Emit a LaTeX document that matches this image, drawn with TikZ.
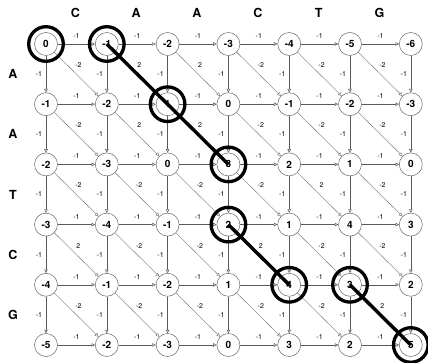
\documentclass[tikz,border=0pt]{standalone}
\usepackage{fontspec}
\setmainfont{TeX Gyre Heros}
\usetikzlibrary{arrows.meta}
\begin{document}
\begin{tikzpicture}[x=1pt,y=-1pt,
  cell/.style={circle, draw=black!60, line width=0.5pt, fill=white, minimum size=23pt, inner sep=0pt, font=\bfseries\fontsize{10}{10}\selectfont},
  edge/.style={draw=black!65, line width=0.5pt, -{Triangle[open,length=3.5pt,width=3.5pt]}},
  diag/.style={draw=black!55, line width=0.4pt, -{Triangle[open,length=3.5pt,width=3.5pt]}},
  lbl/.style={font=\fontsize{7}{7}\selectfont, inner sep=0pt},
  hdr/.style={font=\bfseries\fontsize{12.5}{12.5}\selectfont},
  hl/.style={draw=black, line width=3.3pt},
  trace/.style={draw=black, line width=3.4pt}]
\useasboundingbox (0,0) rectangle (428,363);
\clip (0,0) rectangle (428,363);
% cells
\foreach \row [count=\i from 0] in {{0,-1,-2,-3,-4,-5,-6},{-1,-2,1,0,-1,-2,-3},{-2,-3,0,3,2,1,0},{-3,-4,-1,2,1,4,3},{-4,-1,-2,1,4,3,2},{-5,-2,-3,0,3,2,5}} {
  \foreach \v [count=\j from 0] in \row {
    \node[cell] (n-\i-\j) at ({46+60.8*\j},{44+60.2*\i}) {\v};
  }
}
% headers
\foreach \c [count=\j] in {C,A,A,C,T,G}
  \node[hdr] (h\j) at ({46+60.8*(\j-0.5)-1},13) {\c};
\foreach \c [count=\i] in {A,A,T,C,G}
  \node[hdr] (r\i) at (13,{44+60.2*(\i-0.5)}) {\c};
% horizontal edges
\foreach \i in {0,...,5} {
  \foreach \j in {0,...,5} {
    \pgfmathtruncatemacro\jb{\j+1}
    \draw[edge] (n-\i-\j) -- (n-\i-\jb) node[lbl,midway,yshift=8pt]{-1};
  }
}
% vertical edges
\foreach \i in {0,...,4} {
  \foreach \j in {0,...,6} {
    \pgfmathtruncatemacro\ib{\i+1}
    \draw[edge] (n-\i-\j) -- (n-\ib-\j) node[lbl,midway,xshift=-7pt]{-1};
  }
}
% diagonal edges
\foreach \labs [count=\i] in {{-2,2,2,-2,-2,-2},{-2,2,2,-2,-2,-2},{-2,-2,-2,-2,2,-2},{2,-2,-2,2,-2,-2},{-2,-2,-2,-2,-2,2}} {
  \foreach \l [count=\j] in \labs {
    \pgfmathtruncatemacro\ia{\i-1}
    \pgfmathtruncatemacro\ja{\j-1}
    \draw[diag] (n-\ia-\ja) -- (n-\i-\j) node[lbl,midway,xshift=2pt,yshift=9pt]{\l};
  }
}
% highlighted cells
\foreach \a in {0-0,0-1,1-2,2-3,3-3,4-4,4-5,5-6}
  \draw[hl] (n-\a.center) circle[radius=17.3pt];
% traceback diagonals
\draw[trace] (n-0-1.center) -- (n-1-2.center) -- (n-2-3.center);
\draw[trace] (n-3-3.center) -- (n-4-4.center);
\draw[trace] (n-4-5.center) -- (n-5-6.center);
\end{tikzpicture}
\end{document}
